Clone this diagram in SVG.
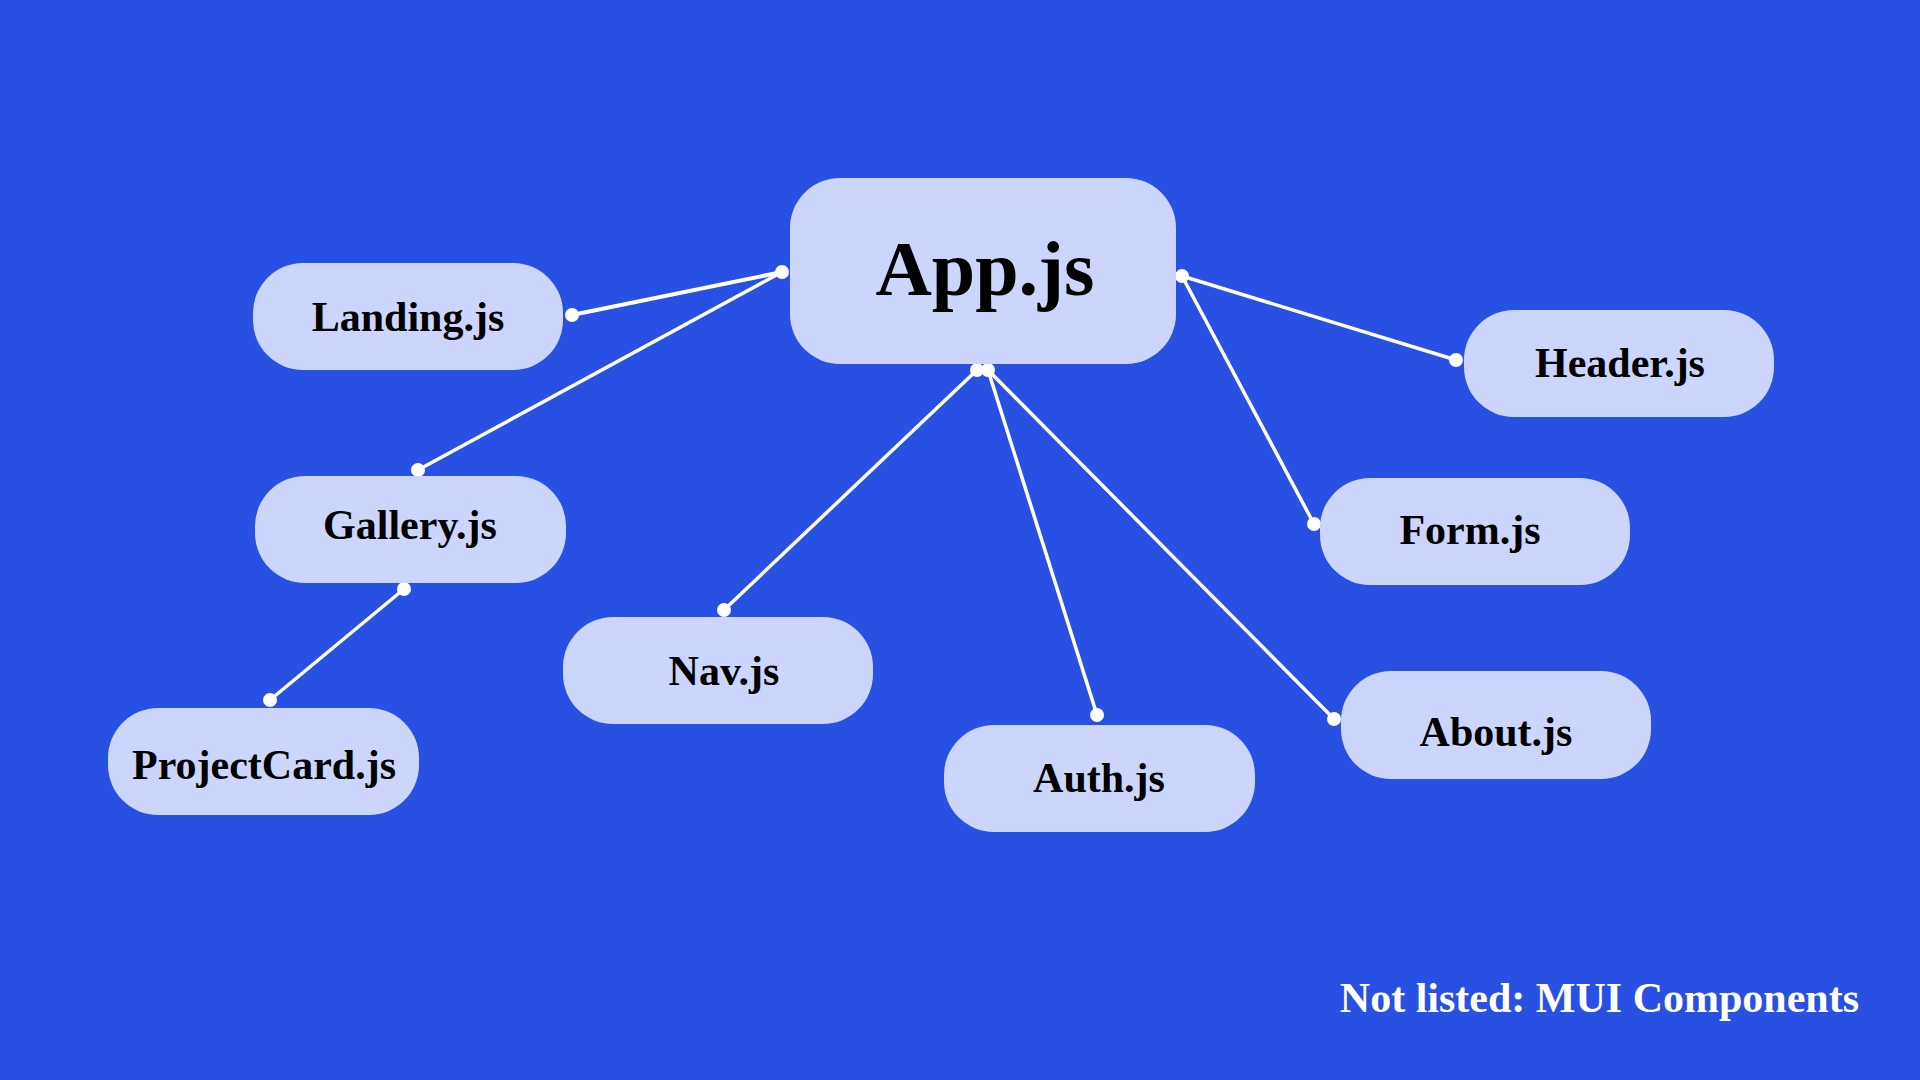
<svg xmlns="http://www.w3.org/2000/svg" width="1920" height="1080" viewBox="0 0 1920 1080">
<style>
.node rect{fill:#ccd6fd}
.node text{font-family:"Liberation Serif","DejaVu Serif",serif;font-weight:bold;font-size:42px;fill:#000;text-anchor:middle}
#connectors line{stroke:#fff;stroke-width:3.5;stroke-linecap:round}
#connectors circle{fill:#fff}
.note{font-family:"Liberation Serif","DejaVu Serif",serif;font-weight:bold;font-size:42px;fill:#fff;text-anchor:end}
</style>
<rect width="1920" height="1080" fill="#2850e3"/>
<g id="connectors">
<line x1="782" y1="272" x2="572" y2="315" style="stroke-width:4"/>
<line x1="782" y1="272" x2="418" y2="470"/>
<line x1="404" y1="589" x2="270" y2="700"/>
<line x1="977" y1="370" x2="724" y2="610"/>
<line x1="988" y1="370" x2="1097" y2="715"/>
<line x1="988" y1="370" x2="1334" y2="719"/>
<line x1="1182" y1="276" x2="1456" y2="360"/>
<line x1="1182" y1="276" x2="1314" y2="524"/>
<circle cx="782" cy="272" r="7"/>
<circle cx="572" cy="315" r="7"/>
<circle cx="418" cy="470" r="7"/>
<circle cx="404" cy="589" r="7"/>
<circle cx="270" cy="700" r="7"/>
<circle cx="977" cy="370" r="7"/>
<circle cx="988" cy="370" r="7"/>
<circle cx="724" cy="610" r="7"/>
<circle cx="1097" cy="715" r="7"/>
<circle cx="1334" cy="719" r="7"/>
<circle cx="1182" cy="276" r="7"/>
<circle cx="1456" cy="360" r="7"/>
<circle cx="1314" cy="524" r="7"/>
</g>
<g id="app" class="node"><rect x="790" y="178" width="386" height="186" rx="50"/><text x="985" y="295" style="font-size:78px">App.js</text></g>
<g id="landing" class="node"><rect x="253" y="263" width="310" height="107" rx="50"/><text x="408" y="331">Landing.js</text></g>
<g id="gallery" class="node"><rect x="255" y="476" width="311" height="107" rx="50"/><text x="410" y="539">Gallery.js</text></g>
<g id="projectcard" class="node"><rect x="108" y="708" width="311" height="107" rx="50"/><text x="264" y="779">ProjectCard.js</text></g>
<g id="nav" class="node"><rect x="563" y="617" width="310" height="107" rx="50"/><text x="724" y="685">Nav.js</text></g>
<g id="auth" class="node"><rect x="944" y="725" width="311" height="107" rx="50"/><text x="1099" y="792">Auth.js</text></g>
<g id="about" class="node"><rect x="1341" y="671" width="310" height="108" rx="50"/><text x="1496" y="746">About.js</text></g>
<g id="form" class="node"><rect x="1320" y="478" width="310" height="107" rx="50"/><text x="1470" y="544">Form.js</text></g>
<g id="header" class="node"><rect x="1464" y="310" width="310" height="107" rx="50"/><text x="1620" y="377">Header.js</text></g>
<text class="note" x="1859" y="1012">Not listed: MUI Components</text>
</svg>
